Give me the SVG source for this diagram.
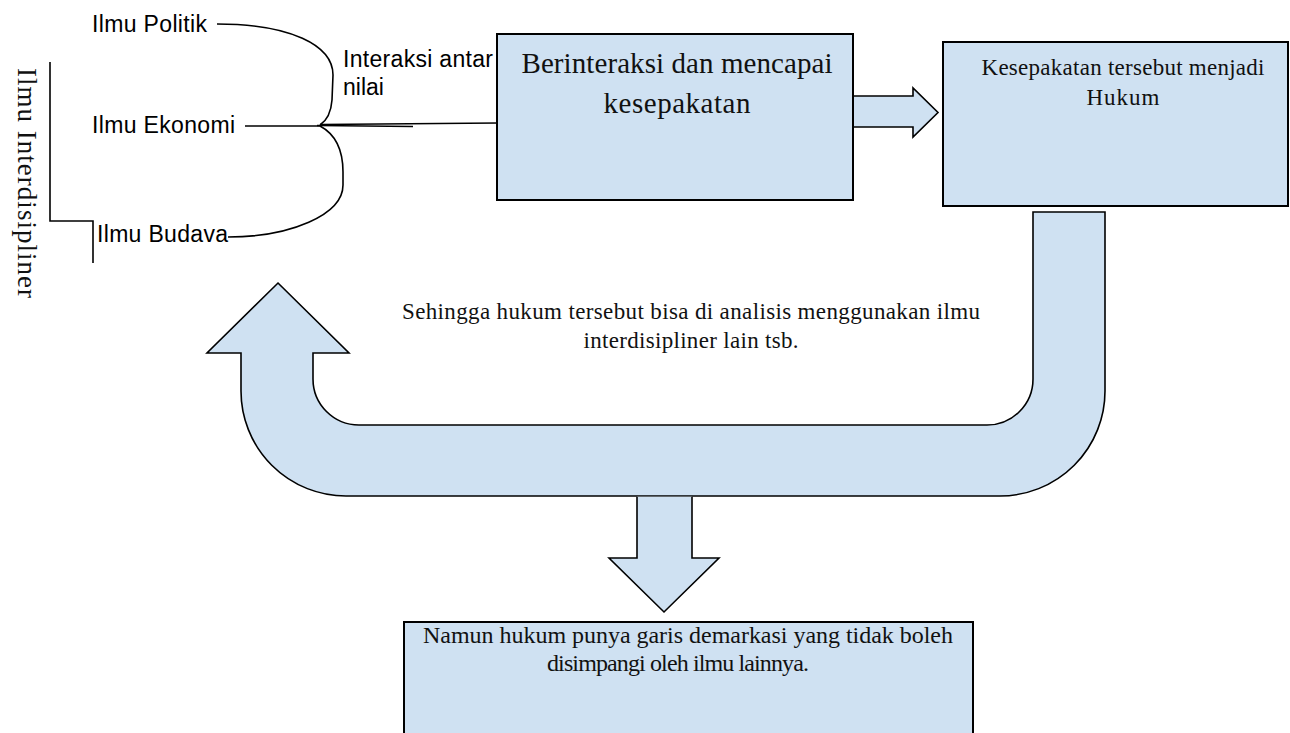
<svg xmlns="http://www.w3.org/2000/svg" width="1290" height="733" viewBox="0 0 1290 733">
<style>
.box{fill:#cfe1f2;stroke:#000;stroke-width:2}
.blk{fill:#cfe1f2;stroke:#000;stroke-width:1.6;stroke-linejoin:miter}
.ln{fill:none;stroke:#000;stroke-width:1.6}
.sans{font-family:"Liberation Sans",Arial,sans-serif;font-size:23px;fill:#000}
.serif{font-family:"Liberation Serif","Times New Roman",serif;fill:#111}
.mid{text-anchor:middle}
</style>
<rect width="1290" height="733" fill="#fff"/>

<g id="connectors">
  <path class="ln" d="M217,24 C290,24 333,45 333,75 L332,100 C331,114 326,121 320,125"/>
  <path class="ln" d="M245,126 L322,126"/>
  <path class="ln" d="M317,125.5 L413,126.5" stroke-width="2.4"/>
  <path class="ln" d="M320,124.5 L498,123"/>
  <path class="ln" d="M320,126 C335,134 343,150 343,172 L343,185 C343,215 290,237 228,237"/>
  <path class="ln" d="M50,62 L50,221 L93,221 L93,263"/>
  <path class="blk" d="M853,96 L913,96 L913,88 L938,112.5 L913,137 L913,127 L853,127 Z"/>
  <path class="blk" d="M278,283 L349,353 L313,353 L313,379 A46,46 0 0 0 359,425 L987,425 A46,46 0 0 0 1033,379 L1033,212 L1105,212 L1105,391 A105,105 0 0 1 1000,496 L346,496 A105,105 0 0 1 241,391 L241,353 L207,353 Z"/>
  <path class="blk" d="M637,496.8 L637,558 L609,558 L664,612 L719,558 L692,558 L692,496.8"/>
</g>

<g id="node-politik"><text class="sans" x="92" y="32" textLength="115">Ilmu Politik</text></g>
<g id="node-ekonomi"><text class="sans" x="92" y="133" textLength="143">Ilmu Ekonomi</text></g>
<g id="node-budaya"><text class="sans" x="97" y="242" textLength="131">Ilmu Budava</text></g>
<g id="node-interaksi">
  <text class="sans" x="343" y="67" textLength="150">Interaksi antar</text>
  <text class="sans" x="343" y="95">nilai</text>
</g>
<g id="node-interdisipliner">
  <text class="serif" font-size="27" transform="translate(18,68) rotate(90)" textLength="230">Ilmu Interdisipliner</text>
</g>

<g id="node-box1">
  <rect class="box" x="497" y="34" width="356" height="166"/>
  <text class="serif mid" font-size="29" x="677" y="73" textLength="311">Berinteraksi dan mencapai</text>
  <text class="serif mid" font-size="29" x="677" y="113" textLength="147">kesepakatan</text>
</g>

<g id="node-box2">
  <rect class="box" x="943" y="42" width="345" height="164"/>
  <text class="serif mid" font-size="23" x="1123" y="75" textLength="283">Kesepakatan tersebut menjadi</text>
  <text class="serif mid" font-size="23" x="1123" y="105" textLength="73">Hukum</text>
</g>

<g id="node-middle">
  <text class="serif mid" font-size="23" x="691" y="319" textLength="578">Sehingga hukum tersebut bisa di analisis menggunakan ilmu</text>
  <text class="serif mid" font-size="23" x="691" y="348" textLength="215">interdisipliner lain tsb.</text>
</g>

<g id="node-box3">
  <rect class="box" x="404" y="622" width="569" height="125"/>
  <text class="serif mid" font-size="24" x="688" y="643" textLength="530">Namun hukum punya garis demarkasi yang tidak boleh</text>
  <text class="serif mid" font-size="24" x="678" y="671" textLength="262">disimpangi oleh ilmu lainnya.</text>
</g>
</svg>
